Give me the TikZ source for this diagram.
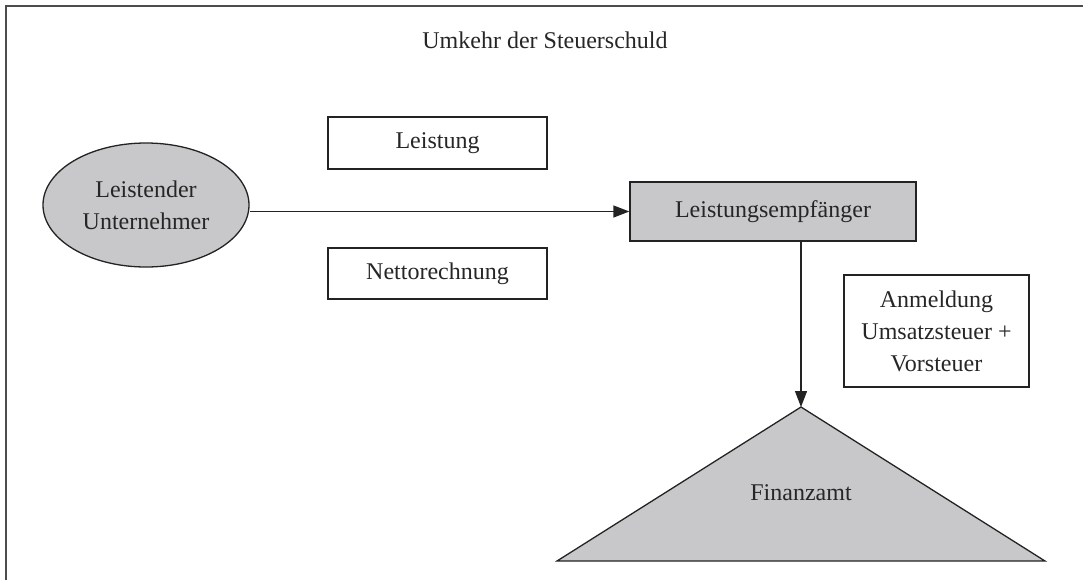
\documentclass[tikz,border=0pt]{standalone}
\usepackage{fontspec}
\setmainfont{Liberation Serif}
\usetikzlibrary{positioning,shapes.geometric,arrows.meta}
\definecolor{boxgray}{RGB}{200,200,202}
\definecolor{linegray}{RGB}{35,35,35}

\begin{document}
\begin{tikzpicture}[x=0.5pt,y=-0.5pt,>={Triangle[length=8pt,width=6pt]},
  every node/.style={font=\fontsize{12}{16}\selectfont, text=black!85},
  box/.style={draw=linegray, line width=0.65pt, align=center, inner sep=0pt},
  line/.style={draw=linegray, line width=0.65pt}]
\useasboundingbox (0,0) rectangle (1083,580);
% frame
\draw[line width=1pt, draw=black!70] (1083,6) -- (6,6) -- (6,580);
\node (title) at (545,40) {Umkehr der Steuerschuld};
% parties
\node (ell) [box, ellipse, fill=boxgray, minimum width=103pt, minimum height=62pt] at (146,205) {Leistender\\Unternehmer};
\node (leist) [box, minimum width=109.5pt, minimum height=26pt] at (437.5,143) {Leistung};
\node (netto) [box, minimum width=109.5pt, minimum height=25.5pt] at (437.5,273.5) {Nettorechnung};
\node (emp) [box, fill=boxgray, minimum width=143pt, minimum height=29.5pt] at (773,211.5) {Leistungsempfänger};
\node (anm) [box, minimum width=92.5pt, minimum height=56pt] at (936.5,331) {Anmeldung\\Umsatzsteuer +\\Vorsteuer};
% Finanzamt
\coordinate (apex) at (801,407);
\draw[line, fill=boxgray] (apex) -- (557,561) -- (1045,561) -- cycle;
\node (fin) at (801,493) {Finanzamt};
% arrows
\draw[->, line] (ell.east |- emp.west) -- (emp.west);
\draw[->, line] (emp.south -| apex) -- (apex);
\end{tikzpicture}
\end{document}
